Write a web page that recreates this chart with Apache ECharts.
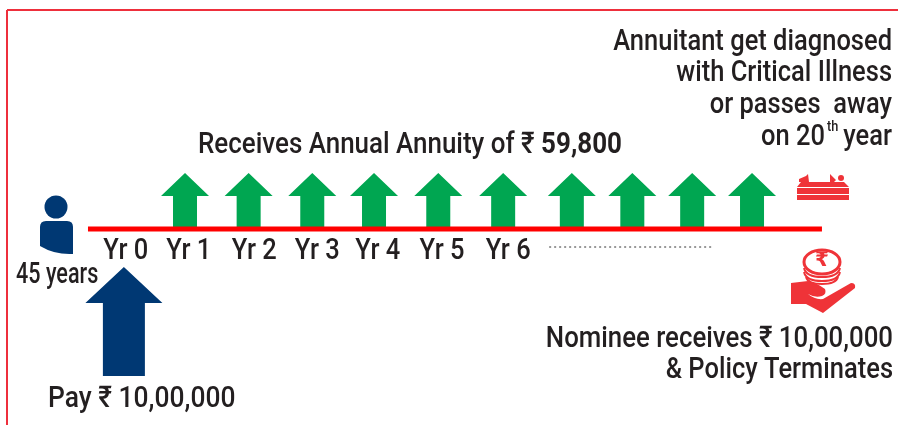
<!DOCTYPE html>
<html>
<head>
<meta charset="utf-8">
<style>html,body{margin:0;padding:0;background:#fff}#main{width:898px;height:425px}</style>
<script src="https://cdn.jsdelivr.net/npm/echarts@6/dist/echarts.min.js"></script>
</head>
<body>
<div id="main"></div>
<script>
// x is in "year slots" along the timeline, y is height above the timeline
var yearLabels = ['Yr 0', 'Yr 1', 'Yr 2', 'Yr 3', 'Yr 4', 'Yr 5', 'Yr 6'];
var yearLabelPos = [0.06, 1.06, 2.1, 3.1, 4.06, 5.08, 6.13];
var annuityPos = [1, 2.01, 3.02, 4, 5.02, 6.05, 7.14, 8.1, 9.05, 10];
var annuityBase = 2;
var annuityTop = 56;
var payPos = [0.03];
var payBase = -147;
var payTop = -38;
var timeline = [[-0.54, 0], [11.11, 0]];
var dotted = [[6.78, -18], [9.38, -18]];

var textColor = '#231f20';
var font = 'Roboto,sans-serif';
var narrow = 0.85; // no condensed font installed, so squeeze Roboto

// graphic has no plain 'path' type, so the icons get registered as shapes
var iconPaths = {
  personBody: 'M46 221 L67 221 Q73 221 73 227 L73 254 Q55 255 40 246 L40 227 Q40 221 46 221 Z',
  bed: 'M801 182 L844 182 L849 187 L797 187 Z M797 188 H849 V194 H797 Z M797 195 H849 V200 H797 Z M799 179 L806 176 L808 174 L809 182 L799 182 Z M830 174 L836 180 L834 182 L830 182 Z',
  hand: 'M791 283 L808 281 Q817 283 825 289 Q827 294 822 296 Q815 298 808 294 Q815 300 823 299 L851 283 Q856 283 855 288 L823 313 L806 304 L791 304 Z',
  coin1: 'M804 268 Q806 277 822 277 Q838 277 840 268',
  coin2: 'M804 272 Q806 281 822 281 Q838 281 840 272',
  coin3: 'M806 277 Q808 284 822 284 Q836 284 838 277'
};
Object.keys(iconPaths).forEach(function (k) {
  echarts.graphic.registerShape(k, echarts.graphic.extendPath(iconPaths[k]));
});

function icon(name, style) {
  return { type: name, silent: true, style: style };
}

function txt(x, y, s, align, size, sx) {
  return {
    type: 'text', x: x, y: y, scaleX: sx || narrow, silent: true,
    style: {
      text: s, fill: textColor, font: '500 ' + (size || 30) + 'px ' + font,
      align: align || 'left', verticalAlign: 'middle'
    }
  };
}

// one up arrow, proportions differ a bit between the green and the blue one
function arrowItem(color, headHalf, shaftHalf, headLen) {
  return function (params, api) {
    var b = api.coord([api.value(0), api.value(1)]);
    var t = api.coord([api.value(0), api.value(2)]);
    return {
      type: 'polygon',
      shape: {
        points: [
          [t[0], t[1]], [t[0] + headHalf, t[1] + headLen], [t[0] + shaftHalf, t[1] + headLen],
          [t[0] + shaftHalf, b[1]], [t[0] - shaftHalf, b[1]], [t[0] - shaftHalf, t[1] + headLen],
          [t[0] - headHalf, t[1] + headLen]
        ]
      },
      style: { fill: color }
    };
  };
}

var myChart = echarts.init(document.getElementById('main'), null, { renderer: 'canvas' });
myChart.setOption({
  animation: false,
  backgroundColor: '#fff',
  grid: { left: 0, right: 0, top: 0, bottom: 0 },
  xAxis: { type: 'value', min: -1.9365, max: 12.317, show: false },
  yAxis: { type: 'value', min: -196, max: 229, show: false },
  series: [
    {
      type: 'custom', coordinateSystem: 'cartesian2d',
      renderItem: arrowItem('#00a651', 24, 12, 23),
      data: annuityPos.map(function (p) { return [p, annuityBase, annuityTop]; }),
      encode: { x: 0, y: [1, 2] }, z: 2
    },
    {
      type: 'custom', coordinateSystem: 'cartesian2d',
      renderItem: arrowItem('#003873', 38.5, 21, 36),
      data: payPos.map(function (p) { return [p, payBase, payTop]; }),
      encode: { x: 0, y: [1, 2] }, z: 2
    },
    {
      type: 'line', data: timeline, symbol: 'none', z: 3,
      lineStyle: { color: '#ff0000', width: 5, cap: 'butt' }
    },
    {
      type: 'line', data: dotted, symbol: 'none', z: 3,
      lineStyle: { color: '#333', width: 1, type: [2, 3] }
    },
    {
      type: 'custom', coordinateSystem: 'cartesian2d', z: 4,
      data: yearLabelPos.map(function (p) { return [p, -22]; }),
      renderItem: function (params, api) {
        var c = api.coord([api.value(0), api.value(1)]);
        return {
          type: 'text', x: c[0], y: c[1], scaleX: narrow,
          style: {
            text: yearLabels[params.dataIndex], fill: textColor, font: '500 30px ' + font,
            align: 'center', verticalAlign: 'middle'
          }
        };
      }
    }
  ],
  graphic: [
    // frame
    { type: 'line', silent: true, shape: { x1: 7, y1: 10, x2: 898, y2: 10 }, style: { stroke: '#ee2f3c', lineWidth: 2 } },
    { type: 'line', silent: true, shape: { x1: 7, y1: 10, x2: 7, y2: 425 }, style: { stroke: '#ee2f3c', lineWidth: 2 } },
    // person
    { type: 'circle', silent: true, shape: { cx: 56, cy: 207, r: 11.5 }, style: { fill: '#003873' } },
    icon('personBody', { fill: '#003873' }),
    // bed
    icon('bed', { fill: '#ef3338' }),
    { type: 'circle', silent: true, shape: { cx: 841, cy: 178, r: 3 }, style: { fill: '#ef3338' } },
    // coins
    icon('coin1', { fill: 'none', stroke: '#ef3338', lineWidth: 2 }),
    icon('coin2', { fill: 'none', stroke: '#ef3338', lineWidth: 2 }),
    icon('coin3', { fill: 'none', stroke: '#ef3338', lineWidth: 2 }),
    { type: 'ellipse', silent: true, shape: { cx: 822, cy: 262, rx: 18, ry: 12 }, style: { fill: '#fff', stroke: '#ef3338', lineWidth: 3 } },
    { type: 'text', silent: true, x: 822, y: 261, style: { text: '₹', fill: '#ef3338', font: 'bold 20px "DejaVu Sans"', align: 'center', verticalAlign: 'middle' } },
    // hand
    icon('hand', { fill: '#ef3338' }),
    // captions
    txt(892, 42, 'Annuitant get diagnosed', 'right'),
    txt(892, 73, 'with Critical Illness', 'right'),
    txt(892, 105, 'or passes  away', 'right'),
    txt(892, 137, 'year', 'right'),
    txt(825, 137, 'on 20', 'right'),
    txt(827, 127, 'th', 'left', 15),
    {
      type: 'text', silent: true, x: 198, y: 145, scaleX: 0.865,
      style: {
        text: '{a|Receives Annual Annuity of ₹ }{b|59,800}', align: 'left', verticalAlign: 'middle',
        rich: {
          a: { font: '500 30px ' + font, fill: textColor },
          b: { font: 'bold 30px ' + font, fill: textColor }
        }
      }
    },
    txt(16, 275, '45 years', 'left', 30, 0.72),
    txt(48, 399, 'Pay ₹ 10,00,000', 'left', 30, 0.88),
    txt(893, 339, 'Nominee receives ₹ 10,00,000', 'right', 30, 0.86),
    txt(893, 370, '& Policy Terminates', 'right')
  ]
});
</script>
</body>
</html>
